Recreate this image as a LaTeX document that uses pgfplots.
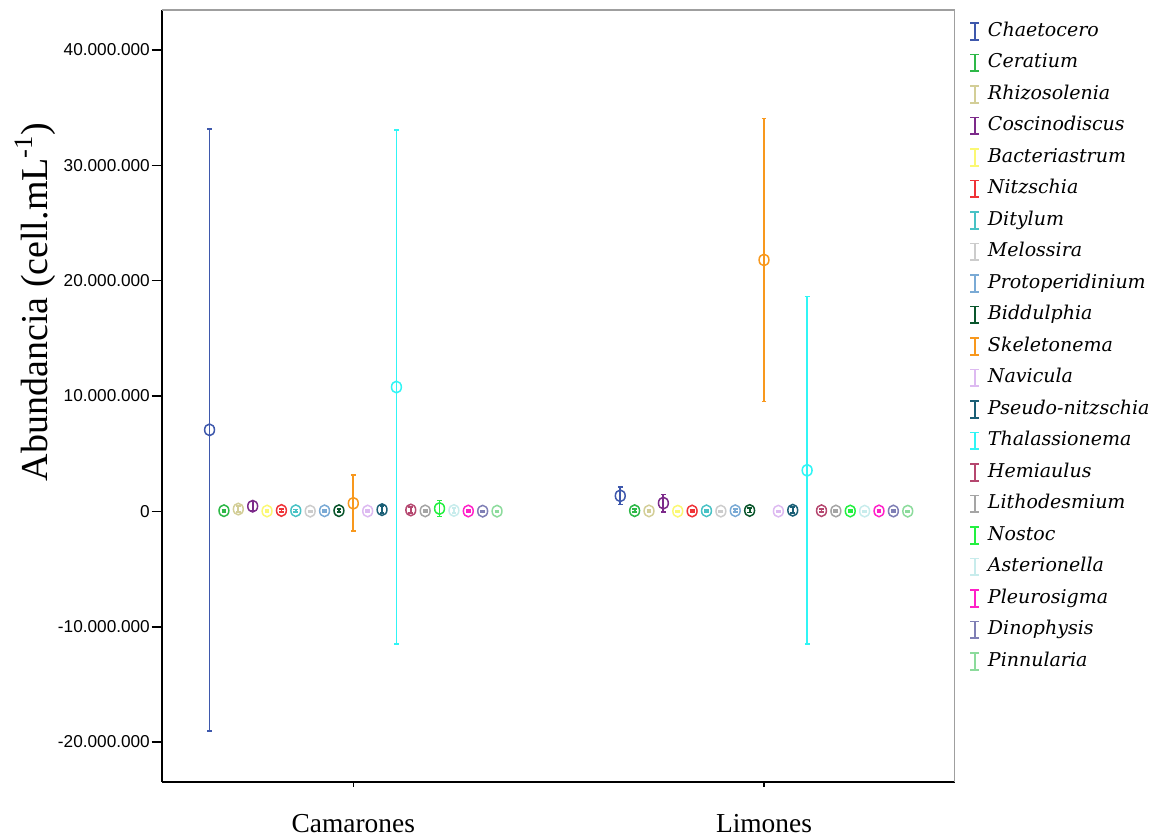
\documentclass[border=0pt]{standalone}
\usepackage{fontspec}
\setmainfont{Liberation Serif}
\newfontfamily\arialfont{Liberation Sans}
\newfontfamily\legfont{DejaVu Serif}
\usepackage{pgfplots}
\pgfplotsset{compat=1.18}

% species colours
\definecolor{c1}{HTML}{3E58AC}
\definecolor{c2}{HTML}{2EB848}
\definecolor{c3}{HTML}{D3CE97}
\definecolor{c4}{HTML}{7C2A8A}
\definecolor{c5}{HTML}{FBF873}
\definecolor{c6}{HTML}{EF3338}
\definecolor{c7}{HTML}{48C2C5}
\definecolor{c8}{HTML}{CCCCCC}
\definecolor{c9}{HTML}{7AAAD5}
\definecolor{c10}{HTML}{0A562C}
\definecolor{c11}{HTML}{F8981D}
\definecolor{c12}{HTML}{DDBAF1}
\definecolor{c13}{HTML}{1A5F76}
\definecolor{c14}{HTML}{30F5F5}
\definecolor{c15}{HTML}{B5476F}
\definecolor{c16}{HTML}{A5A5A5}
\definecolor{c17}{HTML}{22F040}
\definecolor{c18}{HTML}{C8ECEC}
\definecolor{c19}{HTML}{FF20C8}
\definecolor{c20}{HTML}{7F7FB5}
\definecolor{c21}{HTML}{8CDB9C}

\begin{document}
\begin{tikzpicture}
\begin{axis}[
  scale only axis,
  width=396.6bp, height=385.9bp,
  xmin=-0.4665, xmax=1.465,
  ymin=-23450000, ymax=43470000,
  axis lines*=left,
  axis line style={line width=1bp, black},
  xtick={0,1}, xticklabels={Camarones,Limones},
  ytick={-20000000,-10000000,0,10000000,20000000,30000000,40000000},
  yticklabels={-20.000.000,-10.000.000,0,10.000.000,20.000.000,30.000.000,40.000.000},
  tick align=outside,
  tick style={line width=0.8bp, black},
  ytick style={/pgfplots/major tick length=5bp},
  xtick style={/pgfplots/major tick length=2.5bp},
  yticklabel style={font=\arialfont\fontsize{8.6bp}{10bp}\selectfont, inner sep=0.5bp, xshift=-1bp},
  xticklabel style={font=\fontsize{13.7bp}{16bp}\selectfont, yshift=-8.5bp},
  ylabel={Abundancia (cell.mL\textsuperscript{-1})},
  ylabel style={font=\fontsize{19bp}{22bp}\selectfont, at={(rel axis cs:-0.159,0.622)}, anchor=center},
  every axis plot/.append style={only marks, mark=o, line width=0.8bp,
    mark size=2.9bp, mark options={solid, xscale=0.85, line width=0.75bp}},
  error bars/y dir=both,
  error bars/y explicit,
  error bars/error bar style={line width=0.9bp},
  error bars/error mark options={rotate=90, mark size=1.2bp, line width=0.9bp},
  legend cell align=left,
  legend image code/.code={
    \draw[#1, mark=none, line width=0.9bp]
      (2.2bp,-4.2bp) -- (2.2bp,4.2bp)
      (0bp,-4.2bp) -- (4.4bp,-4.2bp)
      (0bp,4.2bp) -- (4.4bp,4.2bp);
  },
  legend style={
    draw=none, fill=none, inner sep=0pt,
    at={(1,1)}, anchor=north west, xshift=7bp, yshift=-4.5bp,
    font=\legfont\itshape\fontsize{9.5bp}{11bp}\selectfont,
    nodes={text height=7.5bp, text depth=2.5bp, inner sep=1bp},
    row sep=3.75bp,
    /tikz/every odd column/.append style={column sep=3bp},
  },
]
\coordinate (sw) at (rel axis cs:0,0);
\coordinate (ne) at (rel axis cs:1,1);
\draw[gray!75, line width=1bp] (rel axis cs:0,1) -- (rel axis cs:1,1) -- (rel axis cs:1,0);

% mean +- error, Camarones at x = 0 and Limones at x = 1
\addplot[c1]  coordinates {(-0.350,7070000)  +- (0,26080000) (0.650,1350000) +- (0,750000)};
\addplot[c2]  coordinates {(-0.315,60000)    +- (0,80000)    (0.685,60000)   +- (0,120000)};
\addplot[c3]  coordinates {(-0.280,200000)   +- (0,250000)   (0.720,40000)   +- (0,80000)};
\addplot[c4]  coordinates {(-0.245,450000)   +- (0,400000)   (0.755,720000)  +- (0,750000)};
\addplot[c5]  coordinates {(-0.210,30000)    +- (0,60000)    (0.790,20000)   +- (0,50000)};
\addplot[c6]  coordinates {(-0.175,80000)    +- (0,150000)   (0.825,30000)   +- (0,80000)};
\addplot[c7]  coordinates {(-0.140,60000)    +- (0,100000)   (0.860,50000)   +- (0,100000)};
\addplot[c8]  coordinates {(-0.105,20000)    +- (0,40000)    (0.895,20000)   +- (0,50000)};
\addplot[c9]  coordinates {(-0.070,50000)    +- (0,100000)   (0.930,60000)   +- (0,120000)};
\addplot[c10] coordinates {(-0.035,60000)    +- (0,120000)   (0.965,80000)   +- (0,180000)};
\addplot[c11] coordinates {(0.000,700000)    +- (0,2420000)  (1.000,21800000) +- (0,12270000)};
\addplot[c12] coordinates {(0.035,30000)     +- (0,60000)    (1.035,20000)   +- (0,60000)};
\addplot[c13] coordinates {(0.070,150000)    +- (0,300000)   (1.070,100000)  +- (0,250000)};
\addplot[c14] coordinates {(0.105,10780000)  +- (0,22280000) (1.105,3560000) +- (0,15070000)};
\addplot[c15] coordinates {(0.140,120000)    +- (0,280000)   (1.140,60000)   +- (0,120000)};
\addplot[c16] coordinates {(0.175,40000)     +- (0,80000)    (1.175,30000)   +- (0,80000)};
\addplot[c17] coordinates {(0.210,250000)    +- (0,700000)   (1.210,30000)   +- (0,80000)};
\addplot[c18] coordinates {(0.245,80000)     +- (0,200000)   (1.245,20000)   +- (0,50000)};
\addplot[c19] coordinates {(0.280,30000)     +- (0,80000)    (1.280,40000)   +- (0,100000)};
\addplot[c20] coordinates {(0.315,20000)     +- (0,60000)    (1.315,30000)   +- (0,80000)};
\addplot[c21] coordinates {(0.350,20000)     +- (0,60000)    (1.350,20000)   +- (0,60000)};

\legend{Chaetocero, Ceratium, Rhizosolenia, Coscinodiscus, Bacteriastrum,
  Nitzschia, Ditylum, Melossira, Protoperidinium, Biddulphia, Skeletonema,
  Navicula, Pseudo-nitzschia, Thalassionema, Hemiaulus, Lithodesmium,
  Nostoc, Asterionella, Pleurosigma, Dinophysis, Pinnularia}
\end{axis}
\pgfresetboundingbox
\path ([xshift=-80.85bp,yshift=-27.15bp]sw) rectangle ([xshift=101.5bp,yshift=5bp]ne);
\end{tikzpicture}
\end{document}
